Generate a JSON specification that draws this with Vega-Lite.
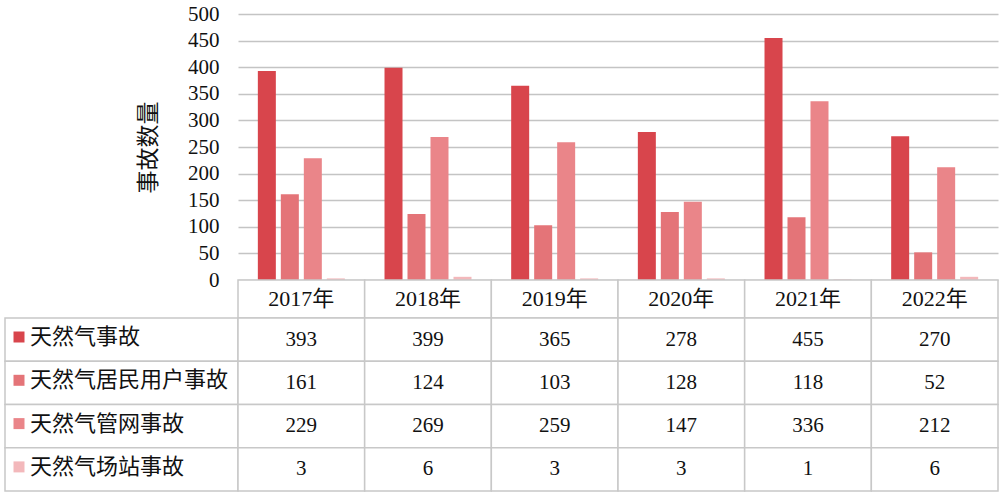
{
  "$schema": "https://vega.github.io/schema/vega-lite/v6.json",
  "padding": {"left": 4, "top": 3, "right": 0, "bottom": 0},
  "background": "white",
  "config": {
    "view": {"stroke": null},
    "font": "'Liberation Serif', 'Noto Sans CJK SC', serif",
    "text": {"font": "'Liberation Serif', 'Noto Sans CJK SC', serif"}
  },
  "datasets": {
    "acc": [
      {"year": "2017年", "series": "天然气事故", "value": 393},
      {"year": "2017年", "series": "天然气居民用户事故", "value": 161},
      {"year": "2017年", "series": "天然气管网事故", "value": 229},
      {"year": "2017年", "series": "天然气场站事故", "value": 3},
      {"year": "2018年", "series": "天然气事故", "value": 399},
      {"year": "2018年", "series": "天然气居民用户事故", "value": 124},
      {"year": "2018年", "series": "天然气管网事故", "value": 269},
      {"year": "2018年", "series": "天然气场站事故", "value": 6},
      {"year": "2019年", "series": "天然气事故", "value": 365},
      {"year": "2019年", "series": "天然气居民用户事故", "value": 103},
      {"year": "2019年", "series": "天然气管网事故", "value": 259},
      {"year": "2019年", "series": "天然气场站事故", "value": 3},
      {"year": "2020年", "series": "天然气事故", "value": 278},
      {"year": "2020年", "series": "天然气居民用户事故", "value": 128},
      {"year": "2020年", "series": "天然气管网事故", "value": 147},
      {"year": "2020年", "series": "天然气场站事故", "value": 3},
      {"year": "2021年", "series": "天然气事故", "value": 455},
      {"year": "2021年", "series": "天然气居民用户事故", "value": 118},
      {"year": "2021年", "series": "天然气管网事故", "value": 336},
      {"year": "2021年", "series": "天然气场站事故", "value": 1},
      {"year": "2022年", "series": "天然气事故", "value": 270},
      {"year": "2022年", "series": "天然气居民用户事故", "value": 52},
      {"year": "2022年", "series": "天然气管网事故", "value": 212},
      {"year": "2022年", "series": "天然气场站事故", "value": 6}
    ]
  },
  "data": {"name": "acc"},
  "columns": 2,
  "spacing": 0,
  "bounds": "flush",
  "concat": [
    {
      "width": 233,
      "height": 266,
      "data": {"values": [{"t": ""}]},
      "mark": {"type": "text"},
      "encoding": {"text": {"field": "t"}}
    },
    {
      "width": 760,
      "height": 266,
      "mark": {"type": "bar"},
      "encoding": {
        "x": {"field": "year", "type": "nominal", "axis": null, "scale": {"paddingInner": 0, "paddingOuter": 0}},
        "xOffset": {"field": "series", "type": "nominal", "scale": {"domain": ["天然气事故", "天然气居民用户事故", "天然气管网事故", "天然气场站事故"], "paddingInner": 0.217, "paddingOuter": 0.863}},
        "y": {
          "field": "value",
          "type": "quantitative",
          "scale": {"domain": [0, 500], "nice": false},
          "axis": {
            "title": "事故数量",
            "titleFontSize": 23,
            "titleFont": "'Liberation Serif', 'Noto Sans CJK SC', serif",
            "titleFontWeight": "normal",
            "titleColor": "#111",
            "titlePadding": 27,
            "values": [0, 50, 100, 150, 200, 250, 300, 350, 400, 450, 500],
            "labelFontSize": 21,
            "labelFont": "'Liberation Serif', serif",
            "labelColor": "#111",
            "labelPadding": 19,
            "ticks": false,
            "domain": false,
            "gridColor": "#c4c4c4",
            "gridWidth": 1.6
          }
        },
        "color": {
          "field": "series",
          "type": "nominal",
          "scale": {"domain": ["天然气事故", "天然气居民用户事故", "天然气管网事故", "天然气场站事故"], "range": ["#d8454c", "#e47478", "#ea8589", "#f3b8bb"]},
          "legend": {
            "orient": "none",
            "legendX": 3,
            "legendY": 312,
            "title": null,
            "direction": "vertical",
            "symbolType": "square",
            "symbolSize": 121,
            "symbolStrokeWidth": 0,
            "labelFontSize": 22,
            "labelFont": "'Liberation Serif', 'Noto Sans CJK SC', serif",
            "labelColor": "#111",
            "labelOffset": 0,
            "labelLimit": 400,
            "rowPadding": 21.3
          }
        }
      }
    },
    {
      "width": 233,
      "height": 38,
      "data": {"values": [{"t": ""}]},
      "mark": {"type": "text"},
      "encoding": {"text": {"field": "t"}}
    },
    {
      "width": 760,
      "height": 38,
      "transform": [{"filter": "datum.series === '天然气事故'"}],
      "layer": [
        {
          "mark": {"type": "rect", "fill": "white", "stroke": "#c8c8c8", "strokeWidth": 1.5},
          "encoding": {"x": {"field": "year", "type": "nominal", "axis": null, "scale": {"paddingInner": 0, "paddingOuter": 0}}}
        },
        {
          "mark": {"type": "text", "fontSize": 22, "color": "#111"},
          "encoding": {
            "x": {"field": "year", "type": "nominal", "axis": null, "scale": {"paddingInner": 0, "paddingOuter": 0}},
            "text": {"field": "year"}
          }
        }
      ]
    },
    {
      "width": 233,
      "height": 173,
      "transform": [{"filter": "datum.year === '2017年'"}],
      "mark": {"type": "rect", "fill": "white", "stroke": "#c8c8c8", "strokeWidth": 1.5},
      "encoding": {
        "y": {"field": "series", "type": "nominal", "axis": null, "scale": {"domain": ["天然气事故", "天然气居民用户事故", "天然气管网事故", "天然气场站事故"], "paddingInner": 0, "paddingOuter": 0}}
      }
    },
    {
      "width": 760,
      "height": 173,
      "layer": [
        {
          "mark": {"type": "rect", "fill": "white", "stroke": "#c8c8c8", "strokeWidth": 1.5},
          "encoding": {
            "x": {"field": "year", "type": "nominal", "axis": null, "scale": {"paddingInner": 0, "paddingOuter": 0}},
            "y": {"field": "series", "type": "nominal", "axis": null, "scale": {"domain": ["天然气事故", "天然气居民用户事故", "天然气管网事故", "天然气场站事故"], "paddingInner": 0, "paddingOuter": 0}}
          }
        },
        {
          "mark": {"type": "text", "fontSize": 21, "color": "#111"},
          "encoding": {
            "x": {"field": "year", "type": "nominal", "axis": null, "scale": {"paddingInner": 0, "paddingOuter": 0}},
            "y": {"field": "series", "type": "nominal", "axis": null, "scale": {"domain": ["天然气事故", "天然气居民用户事故", "天然气管网事故", "天然气场站事故"], "paddingInner": 0, "paddingOuter": 0}},
            "text": {"field": "value", "type": "quantitative"}
          }
        }
      ]
    }
  ]
}
